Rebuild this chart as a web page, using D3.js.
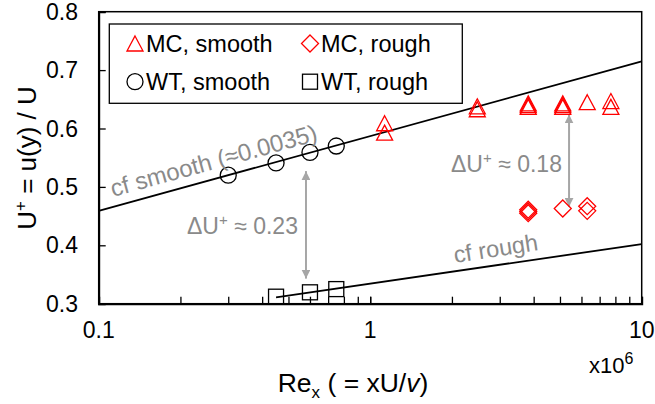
<!DOCTYPE html>
<html>
<head>
<meta charset="utf-8">
<script src="https://cdn.jsdelivr.net/npm/d3@7"></script>
<style>
  html, body { margin: 0; padding: 0; background: #fff; }
  svg { display: block; font-family: "Liberation Sans", Arial, sans-serif; }
</style>
</head>
<body>
<svg id="chart" width="655" height="404"></svg>
<script>
// Reynolds number (x10^6) and velocity ratio U+ for each data set
const mcSmoothRe = [1.13, 1.13, 2.48, 2.48, 3.82, 3.82, 3.82, 5.12, 5.12, 5.12, 6.3, 7.7, 7.7];
const mcSmoothU  = [0.609, 0.593, 0.638, 0.633, 0.643, 0.640, 0.637, 0.643, 0.640, 0.637, 0.645, 0.647, 0.637];

const mcRoughRe = [3.82, 3.82, 3.82, 5.12, 6.3, 6.3];
const mcRoughU  = [0.461, 0.458, 0.455, 0.463, 0.467, 0.459];

const wtSmoothRe = [0.30, 0.45, 0.60, 0.75];
const wtSmoothU  = [0.520, 0.541, 0.559, 0.570];

const wtRoughRe = [0.45, 0.60, 0.75];
const wtRoughU  = [0.312, 0.3195, 0.325];

// Skin-friction trend lines (end points)
const cfSmoothRe = [0.1, 10];
const cfSmoothU  = [0.459, 0.715];
const cfRoughRe  = [0.45, 10];
const cfRoughU   = [0.311, 0.402];

// Velocity-deficit arrows: Re position, upper and lower U+
const arrowRe    = [0.58, 5.4];
const arrowTopU  = [0.527, 0.624];
const arrowBotU  = [0.343, 0.466];

// Axis ticks
const xTickValues = [0.1, 1, 10];
const xTickLabels = ["0.1", "1", "10"];
const yTickValues = [0.3, 0.4, 0.5, 0.6, 0.7, 0.8];

const svg = d3.select("#chart");
const plotL = 98.7, plotR = 641.7, plotT = 11.7, plotB = 303.7;

const x = d3.scaleLog().domain([0.1, 10]).range([plotL, plotR]);
const y = d3.scaleLinear().domain([0.3, 0.8]).range([plotB, plotT]);

const red = "#ff0000";
const grey = "#a6a6a6";
const greyText = "#8a8a8a";

// Frame
svg.append("rect")
  .attr("x", plotL).attr("y", plotT)
  .attr("width", plotR - plotL).attr("height", plotB - plotT)
  .attr("fill", "none").attr("stroke", "#000").attr("stroke-width", 1.5);

// X axis: inward ticks at every log step
const minorX = [];
for (const dec of [0.1, 1]) for (let k = 1; k <= 10; k++) minorX.push(dec * k);
const xAxis = d3.axisBottom(x).tickValues(minorX).tickSize(-7).tickFormat("");
const gx = svg.append("g").attr("transform", `translate(0,${plotB})`).call(xAxis);
gx.select(".domain").attr("stroke-width", 2);
gx.selectAll(".tick line").attr("stroke-width", 1.3);

svg.append("g").selectAll("text").data(xTickValues).join("text")
  .attr("x", d => x(d)).attr("y", 338)
  .attr("text-anchor", "middle").attr("font-size", 23)
  .text((d, i) => xTickLabels[i]);

// Y axis: inward ticks
const yAxis = d3.axisLeft(y).tickValues(yTickValues).tickSize(-7).tickFormat("");
const gy = svg.append("g").attr("transform", `translate(${plotL},0)`).call(yAxis);
gy.select(".domain").attr("stroke-width", 2);
gy.selectAll(".tick line").attr("stroke-width", 1.3);

svg.append("g").selectAll("text").data(yTickValues).join("text")
  .attr("x", 78).attr("y", d => y(d) + 8)
  .attr("text-anchor", "end").attr("font-size", 23)
  .text(d => d3.format(".1f")(d));

// Axis titles
const yTitle = svg.append("text")
  .attr("transform", "translate(36,158) rotate(-90)")
  .attr("text-anchor", "middle").attr("font-size", 26);
yTitle.append("tspan").text("U");
yTitle.append("tspan").attr("font-size", 17).attr("dy", -10).text("+");
yTitle.append("tspan").attr("dy", 10).text(" = u(y) / U");

const xTitle = svg.append("text")
  .attr("x", 353).attr("y", 392)
  .attr("text-anchor", "middle").attr("font-size", 26.5);
xTitle.append("tspan").text("Re");
xTitle.append("tspan").attr("font-size", 17).attr("dy", 6).text("x");
xTitle.append("tspan").attr("dy", -6).text(" ( = xU/");
xTitle.append("tspan").attr("font-style", "italic").text("v");
xTitle.append("tspan").text(")");

const mult = svg.append("text").attr("x", 589).attr("y", 373).attr("font-size", 22);
mult.append("tspan").text("x10");
mult.append("tspan").attr("font-size", 16).attr("dy", -9).text("6");

// Trend lines
const line = d3.line().x(d => x(d[0])).y(d => y(d[1]));
svg.append("path").datum(d3.zip(cfSmoothRe, cfSmoothU))
  .attr("d", line).attr("fill", "none").attr("stroke", "#000").attr("stroke-width", 1.8);
svg.append("path").datum(d3.zip(cfRoughRe, cfRoughU))
  .attr("d", line).attr("fill", "none").attr("stroke", "#000").attr("stroke-width", 1.8);

// Arrows
const defs = svg.append("defs");
defs.append("marker").attr("id", "ah").attr("viewBox", "0 0 10 10")
  .attr("refX", 10).attr("refY", 5).attr("markerWidth", 4.5).attr("markerHeight", 4.5)
  .attr("markerUnits", "strokeWidth").attr("orient", "auto-start-reverse")
  .append("path").attr("d", "M0,0 L10,5 L0,10 Z").attr("fill", grey);

svg.append("g").selectAll("line").data(arrowRe).join("line")
  .attr("x1", d => x(d)).attr("x2", d => x(d))
  .attr("y1", (d, i) => y(arrowTopU[i])).attr("y2", (d, i) => y(arrowBotU[i]))
  .attr("stroke", grey).attr("stroke-width", 2)
  .attr("marker-start", "url(#ah)").attr("marker-end", "url(#ah)");

// Markers
const triPath = "M0,-8 L8,7 L-8,7 Z";
const diaPath = "M0,-8.5 L8.5,0 L0,8.5 L-8.5,0 Z";

svg.append("g").selectAll("circle").data(d3.zip(wtSmoothRe, wtSmoothU)).join("circle")
  .attr("cx", d => x(d[0])).attr("cy", d => y(d[1])).attr("r", 8)
  .attr("fill", "none").attr("stroke", "#000").attr("stroke-width", 1.3);

svg.append("g").selectAll("rect").data(d3.zip(wtRoughRe, wtRoughU)).join("rect")
  .attr("x", d => x(d[0]) - 7.5).attr("y", d => y(d[1]) - 7.5)
  .attr("width", 15).attr("height", 15)
  .attr("fill", "none").attr("stroke", "#000").attr("stroke-width", 1.3);

svg.append("g").selectAll("path").data(d3.zip(mcSmoothRe, mcSmoothU)).join("path")
  .attr("transform", d => `translate(${x(d[0])},${y(d[1]) + 0.5})`)
  .attr("d", triPath).attr("fill", "none").attr("stroke", red).attr("stroke-width", 1.3);

svg.append("g").selectAll("path").data(d3.zip(mcRoughRe, mcRoughU)).join("path")
  .attr("transform", d => `translate(${x(d[0])},${y(d[1])})`)
  .attr("d", diaPath).attr("fill", "none").attr("stroke", red).attr("stroke-width", 1.3);

// Annotations
function deltaLabel(xp, yp, value) {
  const t = svg.append("text").attr("x", xp).attr("y", yp)
    .attr("font-size", 23).attr("fill", greyText);
  t.append("tspan").text("\u0394U");
  t.append("tspan").attr("font-size", 15).attr("dy", -9).text("+");
  t.append("tspan").attr("dy", 9).text(" \u2248 " + value);
}
deltaLabel(187, 234, "0.23");
deltaLabel(451, 172, "0.18");

svg.append("text").attr("transform", "translate(113,197) rotate(-15.4)")
  .attr("font-size", 24).attr("fill", greyText).text("cf smooth (\u22480.0035)");
svg.append("text").attr("transform", "translate(455,263) rotate(-8.8)")
  .attr("font-size", 23.5).attr("fill", greyText).text("cf rough");

// Legend
svg.append("rect").attr("x", 109.3).attr("y", 24).attr("width", 353).attr("height", 79.3)
  .attr("fill", "#fff").attr("stroke", "#000").attr("stroke-width", 1.3);

const legendItems = [
  { label: "MC, smooth", kind: "tri", lx: 135, ly: 43.5 },
  { label: "MC, rough", kind: "dia", lx: 310, ly: 43.5 },
  { label: "WT, smooth", kind: "circ", lx: 135, ly: 81.7 },
  { label: "WT, rough", kind: "sq", lx: 310, ly: 81.7 }
];
const lg = svg.append("g").selectAll("g").data(legendItems).join("g")
  .attr("transform", d => `translate(${d.lx},${d.ly})`);
lg.each(function (d) {
  const g = d3.select(this);
  if (d.kind === "tri") g.append("path").attr("d", triPath).attr("transform", "translate(0,0.5)").attr("fill", "none").attr("stroke", red).attr("stroke-width", 1.3);
  if (d.kind === "dia") g.append("path").attr("d", diaPath).attr("fill", "none").attr("stroke", red).attr("stroke-width", 1.3);
  if (d.kind === "circ") g.append("circle").attr("r", 8).attr("fill", "none").attr("stroke", "#000").attr("stroke-width", 1.3);
  if (d.kind === "sq") g.append("rect").attr("x", -7.5).attr("y", -7.5).attr("width", 15).attr("height", 15).attr("fill", "none").attr("stroke", "#000").attr("stroke-width", 1.3);
  g.append("text").attr("x", 11).attr("y", 8.3).attr("font-size", 23.5).text(d.label);
});
</script>
</body>
</html>
